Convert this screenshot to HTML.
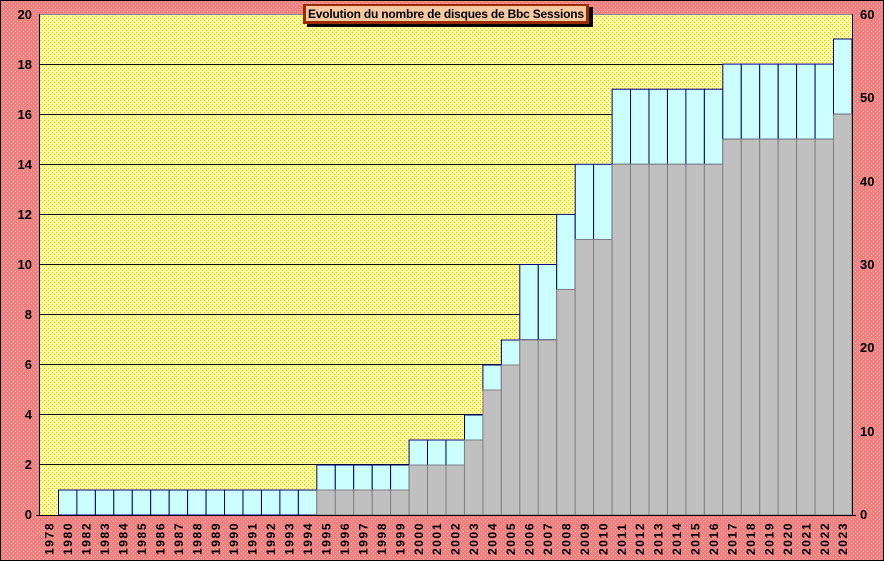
<!DOCTYPE html><html><head><style>body{margin:0}svg{display:block}</style></head><body>
<svg width="884" height="561" xmlns="http://www.w3.org/2000/svg" font-family="Liberation Sans, Arial, sans-serif">
<defs>
<pattern id="pk" width="4" height="4" patternUnits="userSpaceOnUse"><rect width="4" height="4" fill="#EE8080"/><rect x="1" y="1" width="1" height="1" fill="#F6B0B0"/><rect x="3" y="3" width="1" height="1" fill="#F6B0B0"/></pattern>
<pattern id="yl" width="4" height="4" patternUnits="userSpaceOnUse"><rect width="4" height="4" fill="#FFFFA0"/><rect x="0" y="0" width="1" height="1" fill="#FFB000"/><rect x="2" y="2" width="1" height="1" fill="#FFB000"/></pattern>
</defs>
<rect width="884" height="561" fill="url(#pk)"/>
<rect x="0.5" y="0.5" width="883" height="560" fill="none" stroke="#000"/>
<rect x="40" y="14" width="812" height="501" fill="url(#yl)"/>
<g stroke="#000" stroke-width="1">
<line x1="40" y1="14.5" x2="852" y2="14.5" stroke="#888"/>
<line x1="40" y1="64.5" x2="852" y2="64.5"/><line x1="40" y1="114.5" x2="852" y2="114.5"/><line x1="40" y1="164.5" x2="852" y2="164.5"/><line x1="40" y1="214.5" x2="852" y2="214.5"/><line x1="40" y1="264.5" x2="852" y2="264.5"/><line x1="40" y1="314.5" x2="852" y2="314.5"/><line x1="40" y1="364.5" x2="852" y2="364.5"/><line x1="40" y1="414.5" x2="852" y2="414.5"/><line x1="40" y1="464.5" x2="852" y2="464.5"/>
</g>
<g fill="#CCFFFF" stroke="#000080">
<rect x="58.5" y="490" width="18.45" height="25"/><rect x="76.9" y="490" width="18.45" height="25"/><rect x="95.4" y="490" width="18.45" height="25"/><rect x="113.8" y="490" width="18.45" height="25"/><rect x="132.3" y="490" width="18.45" height="25"/><rect x="150.7" y="490" width="18.45" height="25"/><rect x="169.2" y="490" width="18.45" height="25"/><rect x="187.6" y="490" width="18.45" height="25"/><rect x="206.1" y="490" width="18.45" height="25"/><rect x="224.5" y="490" width="18.45" height="25"/><rect x="243" y="490" width="18.45" height="25"/><rect x="261.5" y="490" width="18.45" height="25"/><rect x="279.9" y="490" width="18.45" height="25"/><rect x="298.4" y="490" width="18.45" height="25"/>
<rect x="316.8" y="465" width="18.45" height="25"/><rect x="335.3" y="465" width="18.45" height="25"/><rect x="353.7" y="465" width="18.45" height="25"/><rect x="372.2" y="465" width="18.45" height="25"/><rect x="390.6" y="465" width="18.45" height="25"/>
<rect x="409.1" y="440" width="18.45" height="25"/><rect x="427.5" y="440" width="18.45" height="25"/><rect x="446" y="440" width="18.45" height="25"/>
<rect x="464.5" y="415" width="18.45" height="25"/>
<rect x="482.9" y="365" width="18.45" height="25"/>
<rect x="501.4" y="340" width="18.45" height="25"/>
<rect x="519.8" y="264.5" width="18.45" height="75.2"/><rect x="538.3" y="264.5" width="18.45" height="75.2"/>
<rect x="556.7" y="214.4" width="18.45" height="75.1"/>
<rect x="575.2" y="164.3" width="18.45" height="75.2"/><rect x="593.6" y="164.3" width="18.45" height="75.2"/>
<rect x="612.1" y="89.2" width="18.45" height="75.1"/><rect x="630.5" y="89.2" width="18.45" height="75.1"/><rect x="649" y="89.2" width="18.45" height="75.1"/><rect x="667.5" y="89.2" width="18.45" height="75.1"/><rect x="685.9" y="89.2" width="18.45" height="75.1"/><rect x="704.4" y="89.2" width="18.45" height="75.1"/>
<rect x="722.8" y="64.1" width="18.45" height="75.1"/><rect x="741.3" y="64.1" width="18.45" height="75.1"/><rect x="759.7" y="64.1" width="18.45" height="75.1"/><rect x="778.2" y="64.1" width="18.45" height="75.1"/><rect x="796.6" y="64.1" width="18.45" height="75.1"/><rect x="815.1" y="64.1" width="18.45" height="75.1"/>
<rect x="833.5" y="39" width="18.45" height="75.2"/>
</g>
<g fill="#C0C0C0" stroke="#808080">
<rect x="316.8" y="490" width="18.45" height="25"/><rect x="335.3" y="490" width="18.45" height="25"/><rect x="353.7" y="490" width="18.45" height="25"/><rect x="372.2" y="490" width="18.45" height="25"/><rect x="390.6" y="490" width="18.45" height="25"/>
<rect x="409.1" y="465" width="18.45" height="50"/><rect x="427.5" y="465" width="18.45" height="50"/><rect x="446" y="465" width="18.45" height="50"/>
<rect x="464.5" y="440" width="18.45" height="75"/>
<rect x="482.9" y="390" width="18.45" height="125"/>
<rect x="501.4" y="365" width="18.45" height="150"/>
<rect x="519.8" y="340" width="18.45" height="175"/><rect x="538.3" y="340" width="18.45" height="175"/>
<rect x="556.7" y="289.5" width="18.45" height="225.5"/>
<rect x="575.2" y="239.5" width="18.45" height="275.5"/><rect x="593.6" y="239.5" width="18.45" height="275.5"/>
<rect x="612.1" y="164.3" width="18.45" height="350.7"/><rect x="630.5" y="164.3" width="18.45" height="350.7"/><rect x="649" y="164.3" width="18.45" height="350.7"/><rect x="667.5" y="164.3" width="18.45" height="350.7"/><rect x="685.9" y="164.3" width="18.45" height="350.7"/><rect x="704.4" y="164.3" width="18.45" height="350.7"/>
<rect x="722.8" y="139.2" width="18.45" height="375.8"/><rect x="741.3" y="139.2" width="18.45" height="375.8"/><rect x="759.7" y="139.2" width="18.45" height="375.8"/><rect x="778.2" y="139.2" width="18.45" height="375.8"/><rect x="796.6" y="139.2" width="18.45" height="375.8"/><rect x="815.1" y="139.2" width="18.45" height="375.8"/>
<rect x="833.5" y="114.2" width="18.45" height="400.8"/>
</g>
<line x1="39.5" y1="14" x2="39.5" y2="515" stroke="#000"/>
<line x1="852.5" y1="14" x2="852.5" y2="515" stroke="#000"/>
<line x1="36" y1="515.5" x2="856" y2="515.5" stroke="#000"/>
<g font-size="13" font-weight="bold" text-anchor="end">
<text x="32" y="19">20</text><text x="32" y="69">18</text><text x="32" y="119">16</text><text x="32" y="169">14</text><text x="32" y="219">12</text><text x="32" y="269">10</text><text x="32" y="319">8</text><text x="32" y="369">6</text><text x="32" y="419">4</text><text x="32" y="469">2</text><text x="32" y="519">0</text>
</g>
<g font-size="13" font-weight="bold" text-anchor="start">
<text x="860" y="19">60</text><text x="860" y="102">50</text><text x="860" y="186">40</text><text x="860" y="269">30</text><text x="860" y="352">20</text><text x="860" y="436">10</text><text x="860" y="519">0</text>
</g>
<g font-size="12" font-weight="bold" letter-spacing="1.6">
<text transform="translate(53.7,555) rotate(-90)">1978</text>
<text transform="translate(72.2,555) rotate(-90)">1980</text>
<text transform="translate(90.6,555) rotate(-90)">1982</text>
<text transform="translate(109.1,555) rotate(-90)">1983</text>
<text transform="translate(127.5,555) rotate(-90)">1984</text>
<text transform="translate(146,555) rotate(-90)">1985</text>
<text transform="translate(164.4,555) rotate(-90)">1986</text>
<text transform="translate(182.9,555) rotate(-90)">1987</text>
<text transform="translate(201.3,555) rotate(-90)">1988</text>
<text transform="translate(219.8,555) rotate(-90)">1989</text>
<text transform="translate(238.2,555) rotate(-90)">1990</text>
<text transform="translate(256.7,555) rotate(-90)">1991</text>
<text transform="translate(275.2,555) rotate(-90)">1992</text>
<text transform="translate(293.6,555) rotate(-90)">1993</text>
<text transform="translate(312.1,555) rotate(-90)">1994</text>
<text transform="translate(330.5,555) rotate(-90)">1995</text>
<text transform="translate(349,555) rotate(-90)">1996</text>
<text transform="translate(367.4,555) rotate(-90)">1997</text>
<text transform="translate(385.9,555) rotate(-90)">1998</text>
<text transform="translate(404.3,555) rotate(-90)">1999</text>
<text transform="translate(422.8,555) rotate(-90)">2000</text>
<text transform="translate(441.2,555) rotate(-90)">2001</text>
<text transform="translate(459.7,555) rotate(-90)">2002</text>
<text transform="translate(478.2,555) rotate(-90)">2003</text>
<text transform="translate(496.6,555) rotate(-90)">2004</text>
<text transform="translate(515.1,555) rotate(-90)">2005</text>
<text transform="translate(533.5,555) rotate(-90)">2006</text>
<text transform="translate(552,555) rotate(-90)">2007</text>
<text transform="translate(570.4,555) rotate(-90)">2008</text>
<text transform="translate(588.9,555) rotate(-90)">2009</text>
<text transform="translate(607.3,555) rotate(-90)">2010</text>
<text transform="translate(625.8,555) rotate(-90)">2011</text>
<text transform="translate(644.2,555) rotate(-90)">2012</text>
<text transform="translate(662.7,555) rotate(-90)">2013</text>
<text transform="translate(681.2,555) rotate(-90)">2014</text>
<text transform="translate(699.6,555) rotate(-90)">2015</text>
<text transform="translate(718.1,555) rotate(-90)">2016</text>
<text transform="translate(736.5,555) rotate(-90)">2017</text>
<text transform="translate(755,555) rotate(-90)">2018</text>
<text transform="translate(773.4,555) rotate(-90)">2019</text>
<text transform="translate(791.9,555) rotate(-90)">2020</text>
<text transform="translate(810.3,555) rotate(-90)">2021</text>
<text transform="translate(828.8,555) rotate(-90)">2022</text>
<text transform="translate(847.2,555) rotate(-90)">2023</text>
</g>
<rect x="307" y="7" width="286" height="20" fill="#000"/>
<rect x="303" y="4" width="286" height="20" fill="#9A2C00"/>
<rect x="306" y="6" width="280" height="15" fill="#F8C8A0"/>
<text x="308" y="18" font-size="12" font-weight="bold" fill="#000" textLength="276" lengthAdjust="spacing">Evolution  du nombre de disques de Bbc Sessions</text>
</svg></body></html>
